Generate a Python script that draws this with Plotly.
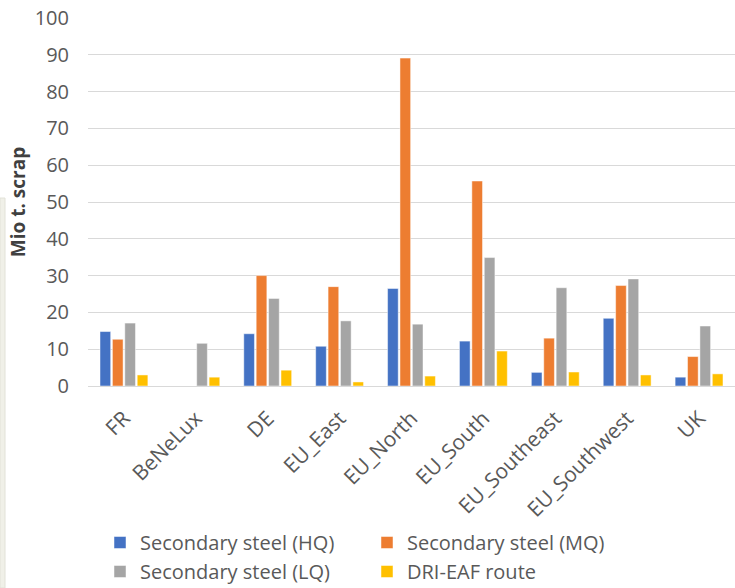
import plotly.graph_objects as go

regions = ["FR", "BeNeLux", "DE", "EU_East", "EU_North", "EU_South",
           "EU_Southeast", "EU_Southwest", "UK"]
hq = [14.8, None, 14.2, 10.8, 26.5, 12.2, 3.7, 18.4, 2.4]
mq = [12.7, None, 30.0, 27.0, 89.1, 55.7, 13.0, 27.3, 8.0]
lq = [17.1, 11.6, 23.8, 17.7, 16.8, 34.9, 26.7, 29.1, 16.3]
dri = [3.0, 2.4, 4.3, 1.1, 2.7, 9.5, 3.8, 3.0, 3.3]

series = [
    ("Secondary steel (HQ)", hq, "#4472C4"),
    ("Secondary steel (MQ)", mq, "#ED7D31"),
    ("Secondary steel (LQ)", lq, "#A5A5A5"),
    ("DRI-EAF route", dri, "#FFC000"),
]

FONT = "Open Sans"
TXT = "#595959"

fig = go.Figure()
for name, vals, col in series:
    fig.add_trace(go.Bar(
        x=regions, y=vals, name=name,
        marker=dict(color=col, line=dict(color="rgba(255,255,255,0.6)", width=0.8)),
    ))

PW = 735 - 88
PH = 386 - 18

fig.update_layout(
    width=735, height=588,
    margin=dict(l=88, r=0, t=18, b=202, autoexpand=False),
    paper_bgcolor="white", plot_bgcolor="white",
    barmode="group", bargap=0.31, bargroupgap=0.14,
    font=dict(family=FONT, color=TXT),
    showlegend=True,
    legend=dict(
        orientation="h", xref="container", yref="container",
        x=100 / 735, xanchor="left",
        y=1 - 523 / 588, yanchor="top",
        entrywidth=222, entrywidthmode="pixels",
        font=dict(family=FONT, size=20, color=TXT),
        itemwidth=30, traceorder="normal",
        bgcolor="rgba(0,0,0,0)",
    ),
    shapes=[dict(
        type="rect", xref="paper", yref="paper", layer="below",
        x0=-88 / PW, x1=-83 / PW, y0=(386 - 588) / PH, y1=(386 - 198) / PH,
        fillcolor="#F0F0E8", line=dict(color="#E2E2D8", width=1),
    )],
)

fig.update_yaxes(
    range=[0, 100], dtick=10, showgrid=True, gridcolor="#D9D9D9", gridwidth=1,
    zeroline=True, zerolinecolor="#D9D9D9", zerolinewidth=1,
    showline=False, ticks="", ticklabelstandoff=18, automargin=False,
    tickfont=dict(family=FONT, size=20, color=TXT),
    title=dict(text="<b>Mio t. scrap</b>", standoff=4,
               font=dict(family=FONT, size=19, color="#404040")),
)
fig.update_xaxes(
    showgrid=False, showline=False, ticks="", tickangle=-45,
    ticklabelstandoff=15, automargin=False,
    tickfont=dict(family=FONT, size=21, color=TXT),
)

fig.write_html("out.html")
